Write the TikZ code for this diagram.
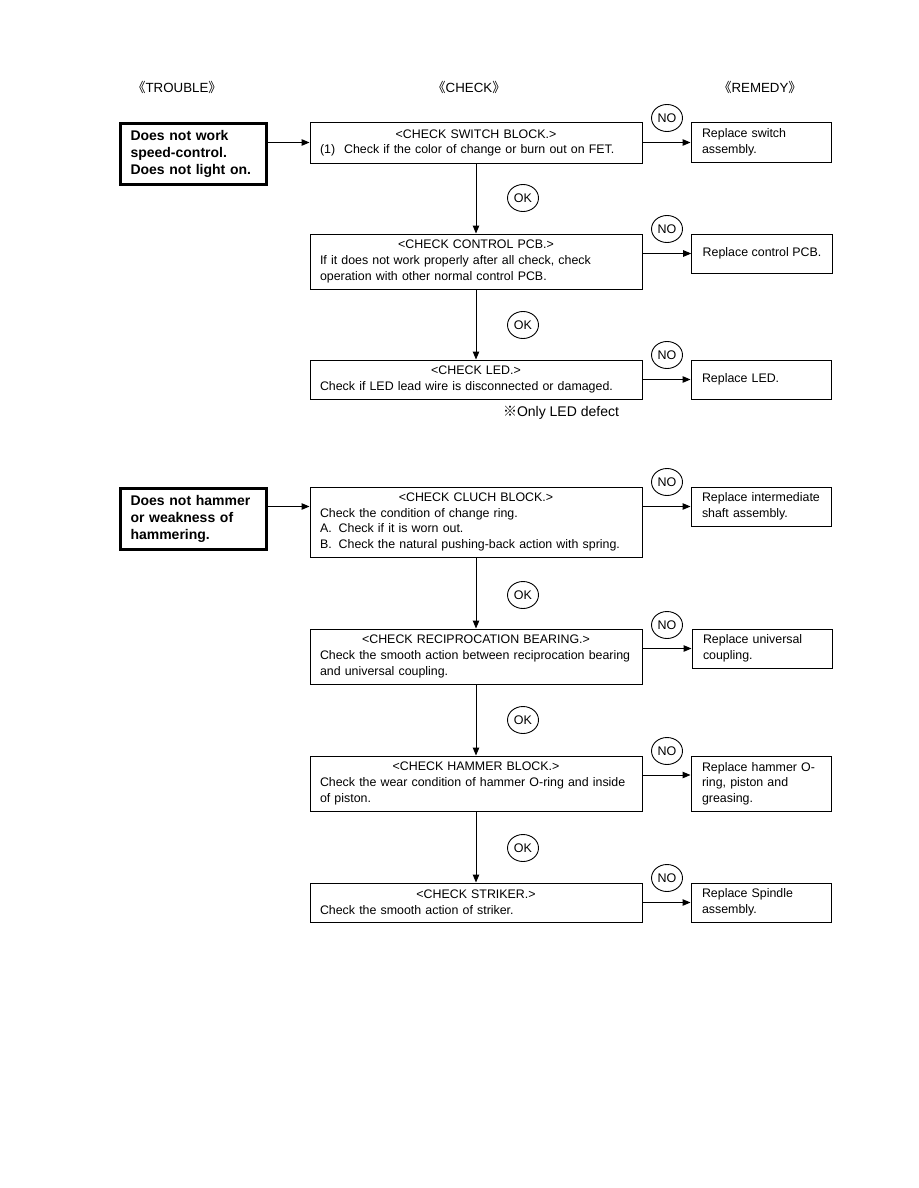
\documentclass[tikz,border=0pt]{standalone}
\usepackage{fontspec}
\setmainfont{Liberation Sans}
\newfontfamily\cjk{Noto Sans CJK JP}
\usetikzlibrary{arrows.meta,shapes.geometric}

\newcommand{\chktitle}[1]{\makebox[\linewidth][c]{#1}\\}

\begin{document}
\begin{tikzpicture}[x=1pt, y=-1pt,
    every node/.style={font=\fontsize{12.4}{15.6}\selectfont},
    heading/.style={font=\fontsize{13.3}{16}\selectfont},
    trouble/.style={draw, line width=3pt, rectangle, minimum width=146, minimum height=61,
        text width=126, align=left, inner sep=0, font=\fontsize{14}{17}\selectfont\bfseries},
    check/.style={draw, line width=1pt, rectangle, text width=312, inner xsep=10, inner ysep=0, align=left},
    remedy/.style={draw, line width=1pt, rectangle, text width=118, inner xsep=11, inner ysep=0,
        minimum height=39, align=left},
    answer/.style={draw, line width=0.9pt, ellipse, minimum width=31, minimum height=27, inner sep=0,
        font=\fontsize{12.5}{13}\selectfont},
    flow/.style={line width=1pt, -{Triangle[length=8pt, width=6.5pt]}}]
    \useasboundingbox (0,0) rectangle (918,1188);

    % Headings
    \node[heading] (hdtrouble) at (177,87) {{\cjk 《}TROUBLE{\cjk 》}};
    \node[heading] (hdcheck) at (469,87) {{\cjk 《}CHECK{\cjk 》}};
    \node[heading] (hdremedy) at (760,87) {{\cjk 《}REMEDY{\cjk 》}};

    % First trouble
    \node[trouble] (trb1) at (193.5,154) {Does not work\\ speed-control.\\ Does not light on.};

    \node[check, minimum height=40] (chk1) at (476,143) {\chktitle{<CHECK SWITCH BLOCK.>}(1)\hspace{9pt}Check if the color of change or burn out on FET.};
    \node[check, minimum height=55] (chk2) at (476,261.5) {\chktitle{<CHECK CONTROL PCB.>}If it does not work properly after all check, check\\ operation with other normal control PCB.};
    \node[check, minimum height=39] (chk3) at (476,379.5) {\chktitle{<CHECK LED.>}Check if LED lead wire is disconnected or damaged.};
    \node[font=\fontsize{14}{16}\selectfont] (note) at (561,413) {{\cjk ※}Only LED defect};

    \node[remedy] (rem1) at (761,142.5) {Replace switch\\ assembly.};
    \node[remedy, text width=, minimum width=140] (rem2) at (762,253.5) {Replace control PCB.};
    \node[remedy] (rem3) at (761,379.5) {Replace LED.};

    \node[answer] (no1) at (667,118) {NO};
    \node[answer] (no2) at (667,229) {NO};
    \node[answer] (no3) at (667,355) {NO};
    \node[answer] (ok1) at (523,198) {OK};
    \node[answer] (ok2) at (523,325) {OK};

    \draw[flow] (trb1.east |- rem1.west) -- (chk1.west |- rem1.west);
    \draw[flow] (chk1) -- (chk2);
    \draw[flow] (chk2) -- (chk3);
    \draw[flow] (chk1.east |- rem1.west) -- (rem1.west);
    \draw[flow] (chk2.east |- rem2.west) -- (rem2.west);
    \draw[flow] (chk3.east |- rem3.west) -- (rem3.west);

    % Second trouble
    \node[trouble] (trb2) at (193.5,518.5) {Does not hammer\\ or weakness of\\ hammering.};

    \node[check, minimum height=70] (chk4) at (476,522) {\chktitle{<CHECK CLUCH BLOCK.>}Check the condition of change ring.\\ A.\hspace{7pt}Check if it is worn out.\\ B.\hspace{7pt}Check the natural pushing-back action with spring.};
    \node[check, minimum height=55] (chk5) at (476,656.5) {\chktitle{<CHECK RECIPROCATION BEARING.>}Check the smooth action between reciprocation bearing\\ and universal coupling.};
    \node[check, minimum height=55] (chk6) at (476,783.5) {\chktitle{<CHECK HAMMER BLOCK.>}Check the wear condition of hammer O-ring and inside\\ of piston.};
    \node[check, minimum height=39] (chk7) at (476,902.5) {\chktitle{<CHECK STRIKER.>}Check the smooth action of striker.};

    \node[remedy] (rem4) at (761,506.5) {Replace intermediate\\ shaft assembly.};
    \node[remedy] (rem5) at (762,648.5) {Replace universal\\ coupling.};
    \node[remedy, minimum height=55] (rem6) at (761,783.5) {Replace hammer O-\\ ring, piston and\\ greasing.};
    \node[remedy] (rem7) at (761,902.5) {Replace Spindle\\ assembly.};
    \coordinate (rem6in) at ([yshift=8.5pt]rem6.west);

    \node[answer] (no4) at (667,482) {NO};
    \node[answer] (no5) at (667,625) {NO};
    \node[answer] (no6) at (667,751) {NO};
    \node[answer] (no7) at (667,878) {NO};
    \node[answer] (ok4) at (523,595) {OK};
    \node[answer] (ok5) at (523,720) {OK};
    \node[answer] (ok6) at (523,848) {OK};

    \draw[flow] (trb2.east |- rem4.west) -- (chk4.west |- rem4.west);
    \draw[flow] (chk4) -- (chk5);
    \draw[flow] (chk5) -- (chk6);
    \draw[flow] (chk6) -- (chk7);
    \draw[flow] (chk4.east |- rem4.west) -- (rem4.west);
    \draw[flow] (chk5.east |- rem5.west) -- (rem5.west);
    \draw[flow] (chk6.east |- rem6in) -- (rem6in);
    \draw[flow] (chk7.east |- rem7.west) -- (rem7.west);
\end{tikzpicture}
\end{document}
